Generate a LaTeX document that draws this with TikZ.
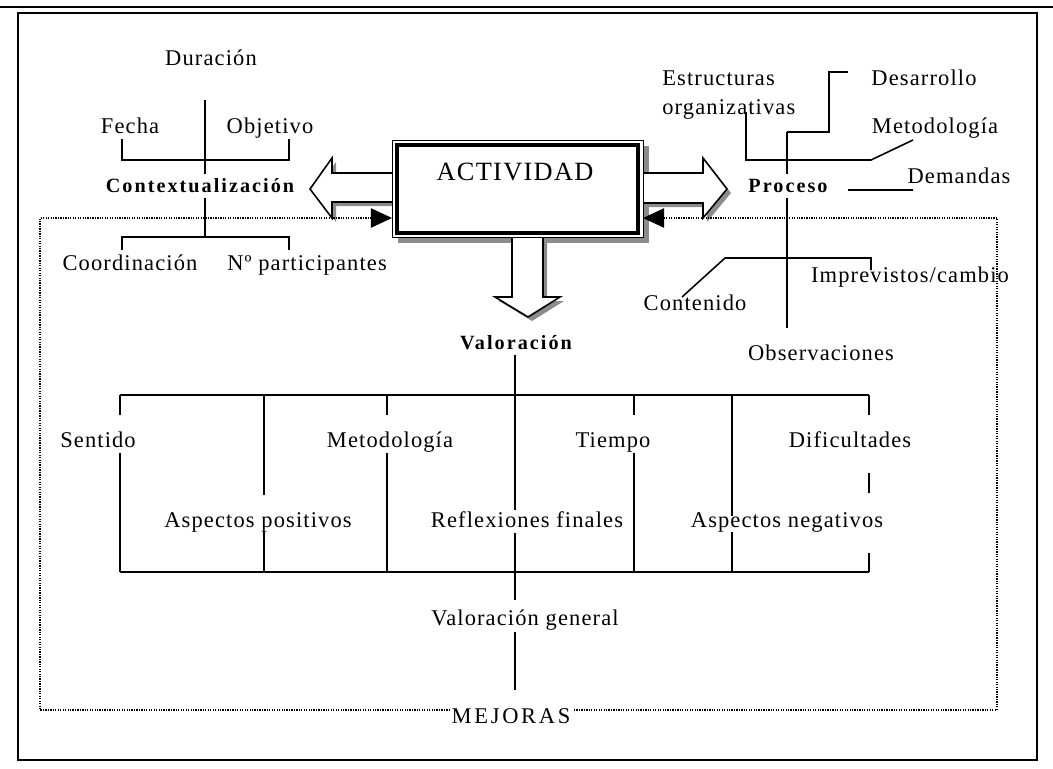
\documentclass[tikz,border=0pt]{standalone}
\usepackage{fontspec}
\setmainfont{Liberation Serif}[LetterSpace=5]
\newfontfamily\headfont{Liberation Serif}[LetterSpace=10]
\newfontfamily\actfont{Liberation Serif}[LetterSpace=5]
\newfontfamily\wideFont{Liberation Serif}[LetterSpace=12]
\usetikzlibrary{arrows.meta}

\def\arwleft{(392,173) -- (332,173) -- (332,158) -- (310,189) -- (332,218) -- (332,202) -- (392,202)}
\def\arwright{(643,173) -- (703,173) -- (703,158) -- (727,189) -- (703,218) -- (703,203) -- (643,203)}
\def\arwdown{(512,237) -- (512,297) -- (495,297) -- (528,317) -- (560,297) -- (543,297) -- (543,237)}

\tikzset{
  lbl/.style={font=\fontsize{12.8}{17}\selectfont, inner sep=0pt, anchor=base},
  head/.style={font=\headfont\bfseries\fontsize{11.5}{13}\selectfont, inner sep=0pt, anchor=base},
  ln/.style={line width=0.9pt},
  dots/.style={line width=0.7pt, dash pattern=on 0.7pt off 0.7pt},
  shade/.style={fill=black!45, draw=none},
  fat/.style={draw, fill=white, line width=0.9pt, line join=miter},
}

\begin{document}
\begin{tikzpicture}[x=0.02cm, y=-0.02cm, >={Triangle[length=12pt,width=11pt]}]
\useasboundingbox (0,0) rectangle (1053,768);
\draw[line width=1.1pt] (0,7) -- (1053,7);
\draw[line width=1.1pt] (18,13) rectangle (1037,760);

% actividad and the three arrows
\fill[shade] (398,146) rectangle (649,243);
\fill[shade, shift={(4,4)}] \arwleft;
\fill[shade, shift={(4,4)}] \arwright;
\fill[shade, shift={(4,4)}] \arwdown;
\draw[fat] \arwleft;
\draw[fat] \arwright;
\draw[fat] \arwdown;
\draw[line width=0.5pt, fill=white] (392,140) rectangle (643,237);
\node[draw, line width=1.8pt, minimum width=4.82cm, minimum height=1.76cm] (act) at (517.5,189) {};
\node[font=\actfont\fontsize{15}{16}\selectfont, inner sep=0pt, anchor=base] (actlbl) at (515,180) {ACTIVIDAD};

% feedback (dotted)
\node[lbl, font=\wideFont\fontsize{12.8}{17}\selectfont] (mej) at (511,723) {MEJORAS};
\draw[dots, ->] (450,710) -- (40,710) -- (40,218) -- (392,218);
\draw[dots, ->] (574,710) -- (997,710) -- (997,218) -- (643,218);

% contextualizacion
\node[head] (ctx) at (200,192) {Contextualización};
\node[lbl] (dur) at (211,65) {Duración};
\node[lbl] (fecha) at (130,133) {Fecha};
\node[lbl] (obj) at (270,133) {Objetivo};
\node[lbl] (coord) at (130,270) {Coordinación};
\node[lbl] (npart) at (307,270) {Nº participantes};
\draw[ln] (205,100) -- (205,174);
\draw[ln] (205,198) -- (205,237);
\draw[ln] (122,139) -- (122,160) -- (289,160) -- (289,139);
\draw[ln] (122,250) -- (122,237) -- (289,237) -- (289,250);

% proceso
\node[head] (proc) at (788,192) {Proceso};
\node[lbl, anchor=north west, align=left] (estr) at (662,70) {Estructuras\\organizativas};
\node[lbl] (desa) at (924,85) {Desarrollo};
\node[lbl] (metp) at (935,133) {Metodología};
\node[lbl] (dem) at (959,183) {Demandas};
\node[lbl] (impr) at (910,282) {Imprevistos/cambio};
\node[lbl] (cont) at (695,310) {Contenido};
\node[lbl] (obs) at (821,360) {Observaciones};
\draw[ln] (787,132) -- (787,174);
\draw[ln] (787,198) -- (787,328);
\draw[ln] (787,132) -- (829,132) -- (829,72) -- (848,72);
\draw[ln] (746,112) -- (746,160) -- (871,160) -- (913,140);
\draw[ln] (848,190) -- (913,190);
\draw[ln] (682,297) -- (725,258) -- (871,258) -- (871,270);

% valoracion
\node[head] (val) at (516,349) {Valoración};
\node[lbl] (sent) at (98,447) {Sentido};
\node[lbl] (metv) at (390,447) {Metodología};
\node[lbl] (tiem) at (613,447) {Tiempo};
\node[lbl] (dif) at (850,447) {Dificultades};
\node[lbl] (apos) at (258,527) {Aspectos positivos};
\node[lbl] (refl) at (527,527) {Reflexiones finales};
\node[lbl] (aneg) at (787,527) {Aspectos negativos};
\node[lbl] (vgen) at (525,625) {Valoración general};
\draw[ln] (515,355) -- (515,510);
\draw[ln] (515,533) -- (515,600);
\draw[ln] (515,632) -- (515,690);
\draw[ln] (120,395) -- (869,395);
\draw[ln] (120,572) -- (869,572);
\foreach \x in {120,387,634} {
  \draw[ln] (\x,395) -- (\x,415);
  \draw[ln] (\x,453) -- (\x,572);
}
\draw[ln] (264,395) -- (264,495);
\draw[ln] (264,532) -- (264,572);
\draw[ln] (732,395) -- (732,516);
\draw[ln] (732,532) -- (732,572);
\draw[ln] (869,395) -- (869,415);
\draw[ln] (869,473) -- (869,493);
\draw[ln] (869,553) -- (869,572);
\end{tikzpicture}
\end{document}
